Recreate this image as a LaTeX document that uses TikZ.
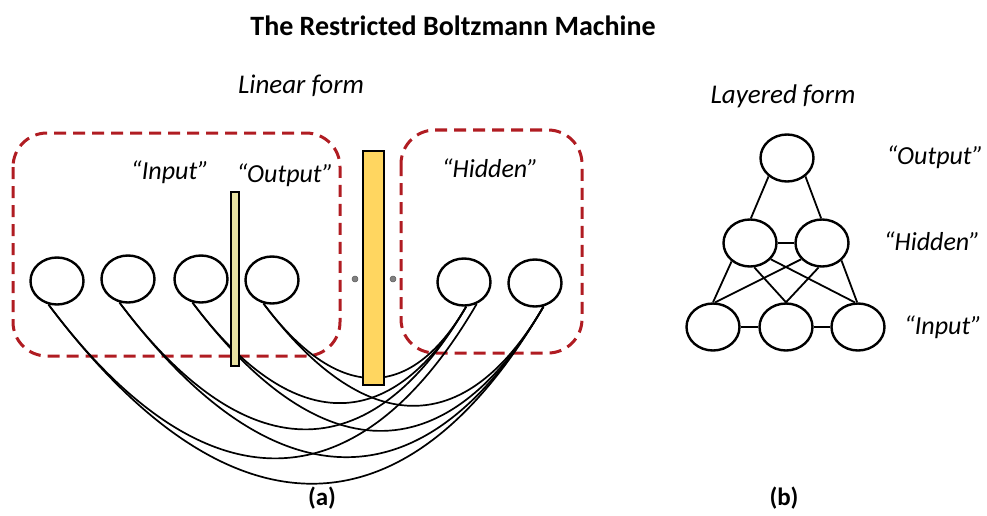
\documentclass[tikz,border=0pt]{standalone}
\usepackage{fontspec}
\setmainfont{Carlito}
\usetikzlibrary{shapes.geometric,calc}
\definecolor{rbmred}{RGB}{176,28,34}
\definecolor{bargold}{RGB}{255,214,96}
\definecolor{barpale}{RGB}{232,226,162}
\begin{document}
\begin{tikzpicture}[x=1pt,y=-1pt,
  unit/.style={ellipse, draw, line width=2.4pt, inner sep=0pt, minimum width=53pt, minimum height=47pt},
  group/.style={draw=rbmred, line width=3pt, dash pattern=on 12pt off 7pt, rounded corners=34pt},
  wire/.style={line width=1.7pt},
  edge/.style={line width=1.8pt},
  bar/.style={draw=black, line width=1.4pt},
  lbl/.style={font=\fontsize{26}{30}\selectfont\itshape},
  head/.style={font=\fontsize{27}{31}\selectfont\itshape},
  tag/.style={font=\fontsize{25}{29}\selectfont\bfseries},
  probe/.style={circle, fill=gray, draw=gray!70!black, line width=0.5pt, inner sep=0pt, minimum size=6pt}]
\useasboundingbox (0,0) rectangle (987,516);

% title and captions
\node[font=\fontsize{28}{32}\selectfont\bfseries] (title) at (453,26) {The Restricted Boltzmann Machine};
\node[head] (linhead) at (301,86) {Linear form};
\node[head] (layhead) at (783,96) {Layered form};
\node[tag] (capa) at (322,498) {(a)};
\node[tag] (capb) at (784,498) {(b)};

% (a) linear form: groups
\draw[group] (13,133) rectangle (340,356);
\draw[group] (401,130) rectangle (582,353);
\node[lbl] (lin) at (170,172) {“Input”};
\node[lbl] (lout) at (285,175) {“Output”};
\node[lbl] (lhid) at (490,168) {“Hidden”};

% units
\node[unit] (v1) at (57,281) {};
\node[unit] (v2) at (128,279) {};
\node[unit] (v3) at (201,279) {};
\node[unit] (v4) at (272,280) {};
\node[unit] (h1) at (464,282) {};
\node[unit] (h2) at (535,283) {};

% arcs: every visible/output unit to every hidden unit
\foreach \a/\b/\e in {v1/h1/300, v1/h2/290, v2/h1/275, v2/h2/290,
                      v3/h1/275, v3/h2/290, v4/h1/275, v4/h2/290}{
  \draw[wire] let \p1=(\a.250), \p2=(\b.\e), \n1={\x2-\x1} in
    (\p1) .. controls ({\x1+0.36*\n1},{\y1-0.48*\n1}) and ({\x2-0.28*\n1},{\y2-0.48*\n1}) .. (\p2);
}

% separating bars
\draw[bar, fill=barpale] (231,192) rectangle (239,366);
\draw[bar, fill=bargold] (363,151) rectangle (384,385);
\node[probe] (pl) at (355,279) {};
\node[probe] (pr) at (393,279) {};

% (b) layered form
\node[unit] (o) at (787,158) {};
\node[unit] (hl) at (750,243) {};
\node[unit] (hr) at (822,243) {};
\node[unit] (il) at (713,327) {};
\node[unit] (im) at (786,327) {};
\node[unit] (ir) at (858,327) {};

\draw[edge] (o.225) -- (hl.88);
\draw[edge] (o.315) -- (hr.92);
\draw[edge] (hl.east) -- (hr.west);
\draw[edge] (hl.225) -- (il.90);
\draw[edge] (hl.280) -- (im.90);
\draw[edge] (hl.322) -- (ir.97);
\draw[edge] (hr.218) -- (il.85);
\draw[edge] (hr.262) -- (im.90);
\draw[edge] (hr.318) -- (ir.92);
\draw[edge] (il.east) -- (im.west);
\draw[edge] (im.east) -- (ir.west);

\node[lbl] (rout) at (935,157) {“Output”};
\node[lbl] (rhid) at (932,241) {“Hidden”};
\node[lbl] (rin) at (943,327) {“Input”};
\end{tikzpicture}
\end{document}
